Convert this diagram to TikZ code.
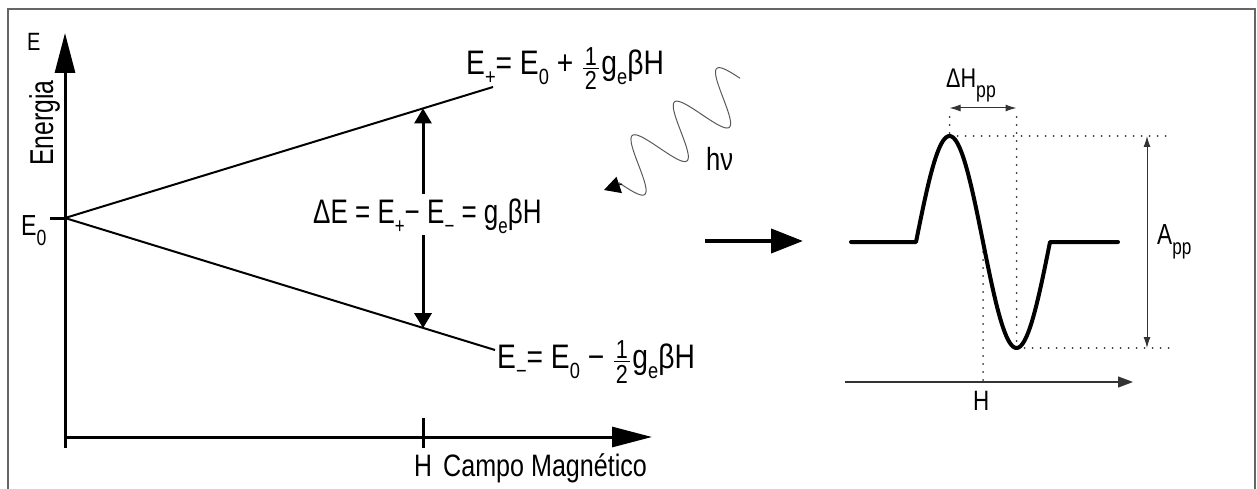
\documentclass[tikz,border=0pt]{standalone}
\usepackage{fontspec}
\usepackage{graphicx}
\setmainfont{Liberation Sans}
\usetikzlibrary{arrows.meta}
\newcommand{\fsz}[1]{\fontsize{#1}{#1}\selectfont}
\newcommand{\cond}[2][0.75]{\scalebox{#1}[1]{#2}}
\newcommand{\sbs}[1]{\raisebox{-10pt}{\fsz{22}#1}}
\newcommand{\halfrac}{\kern2pt\raisebox{-15pt}{\vbox{\fsz{26}\halign{\hfil\kern2.5pt##\kern2.5pt\hfil\cr 1\cr\noalign{\kern2pt\hrule height 1.3pt\kern3pt}2\cr}}}\kern3pt}
\tikzset{
  lbl/.style={inner sep=0pt, anchor=base west},
  eq/.style={lbl, font=\fsz{34}},
  axis/.style={line width=3pt, -{Triangle[length=40pt,width=20pt]}},
  level/.style={line width=2pt},
  trans/.style={line width=3pt, -{Triangle[length=15pt,width=17pt]}},
  tick/.style={line width=3pt},
  frame/.style={draw=black!60, line width=1.5pt},
  wave/.style={draw=black!65, line width=1pt},
  sig/.style={line width=4pt, line cap=round, line join=round},
  dots/.style={line width=2pt, line cap=round, dash pattern=on 0pt off 8pt, black!80},
  thinarrow/.style={line width=1pt, black!80, {Latex[length=11pt,width=7pt]}-{Latex[length=11pt,width=7pt]}},
  bigarrow/.style={line width=4pt, -{Triangle[length=32pt,width=24pt]}},
}
\begin{document}
\begin{tikzpicture}[x=1pt,y=-1pt]
\useasboundingbox (0,0) rectangle (1257,489);
% frame
\draw[frame] (8,495) -- (8,9) -- (1255,9) -- (1255,495);

% ---------- energy diagram ----------
\coordinate (O) at (65,218);
\coordinate (ytop) at (65,33);
\coordinate (ybot) at (65,448);
\coordinate (xl) at (65,437);
\coordinate (xr) at (652,437);
\coordinate (e0t) at (50,218);
\coordinate (up) at (493,87);
\coordinate (lo) at (495,350);
\coordinate (au) at (423,108.4);
\coordinate (al) at (423,328.2);
\coordinate (am1) at (423,194);
\coordinate (am2) at (423,235);
\coordinate (ht1) at (423,418);
\coordinate (ht2) at (423,448);

\draw[axis] (ybot) -- (ytop);
\draw[axis] (xl) -- (xr);
\draw[tick] (e0t) -- (O);
\draw[tick] (ht1) -- (ht2);
\draw[level] (O) -- (up);
\draw[level] (O) -- (lo);
\draw[trans] (am1) -- (au);
\draw[trans] (am2) -- (al);

\node[lbl, font=\fsz{25}] (lE) at (27,51) {\cond[0.8]{E}};
\node[lbl, font=\fsz{33}, rotate=90] (lEn) at (53,166) {\cond{Energia}};
\node[lbl, font=\fsz{29}] (lE0) at (21,235) {\cond[0.8]{E\sbs{0}}};
\node[eq] (eplus) at (466,75) {\cond[0.83]{E\sbs{+}= E\sbs{0} + \halfrac g\sbs{e}βH}};
\node[eq] (eminus) at (497,368) {\cond[0.83]{E\sbs{−}= E\sbs{0} − \halfrac g\sbs{e}βH}};
\node[eq] (dE) at (313,223) {\cond[0.765]{ΔE = E\sbs{+}− E\sbs{−} = g\sbs{e}βH}};
\node[lbl, font=\fsz{31}] (lH) at (414,476) {\cond[0.8]{H}};
\node[lbl, font=\fsz{31}] (lCM) at (443,476) {\cond[0.81]{Campo Magnético}};

% ---------- photon ----------
\draw[wave] plot[domain=0:160, samples=140, smooth]
  ({743-0.7826*\x-0.6211*27*cos(6.6667*(\x-12))},
   {82+0.6211*\x-0.7826*27*cos(6.6667*(\x-12))});
\coordinate (wend) at (622,184);
\coordinate (wtip) at (604,190);
\draw[wave, -{Triangle[length=16pt,width=17pt]}, black] (wend) -- (wtip);
\node[lbl, font=\fsz{32}] (hv) at (706,171) {\cond[0.8]{hν}};

% ---------- big arrow ----------
\coordinate (ba1) at (705,241);
\coordinate (ba2) at (803,241);
\draw[bigarrow] (ba1) -- (ba2);

% ---------- EPR signal ----------
\coordinate (sl) at (851,242);
\coordinate (s1) at (916,242);
\coordinate (s2) at (1050,242);
\coordinate (sr) at (1118,242);
\coordinate (pk) at (949.5,136);
\coordinate (mn) at (1016.5,348);
\coordinate (pkt) at (949.5,117);
\coordinate (mnt) at (1016.5,117);
\coordinate (zc) at (983,244);
\coordinate (zb) at (983,382);
\coordinate (ph) at (1173,136);
\coordinate (mh) at (1173,348);

\draw[dots] (pkt) -- (pk);
\draw[dots] (mnt) -- (mn);
\draw[dots] (pk) -- (ph);
\draw[dots] (mn) -- (mh);
\draw[dots] (zc) -- (zb);

\draw[sig] (sl) -- (s1) -- plot[domain=0:134, samples=90] ({916+\x},{242-106*sin(2.68657*\x)}) -- (sr);

\coordinate (dh1) at (949.5,108);
\coordinate (dh2) at (1016.5,108);
\draw[thinarrow] (dh1) -- (dh2);
\node[lbl, font=\fsz{27}] (dHpp) at (946,88) {\cond[0.8]{ΔH\sbs{pp}}};

\coordinate (ap1) at (1147,136);
\coordinate (ap2) at (1147,348);
\draw[thinarrow] (ap1) -- (ap2);
\node[lbl, font=\fsz{29}] (App) at (1157,244) {\cond[0.78]{A\sbs{pp}}};

\coordinate (hx1) at (845,382);
\coordinate (hx2) at (1133,382);
\draw[line width=1.2pt, black!80, -{Triangle[length=15pt,width=11pt]}] (hx1) -- (hx2);
\node[lbl, font=\fsz{28}] (Hr) at (973,410) {\cond[0.8]{H}};
\end{tikzpicture}
\end{document}
